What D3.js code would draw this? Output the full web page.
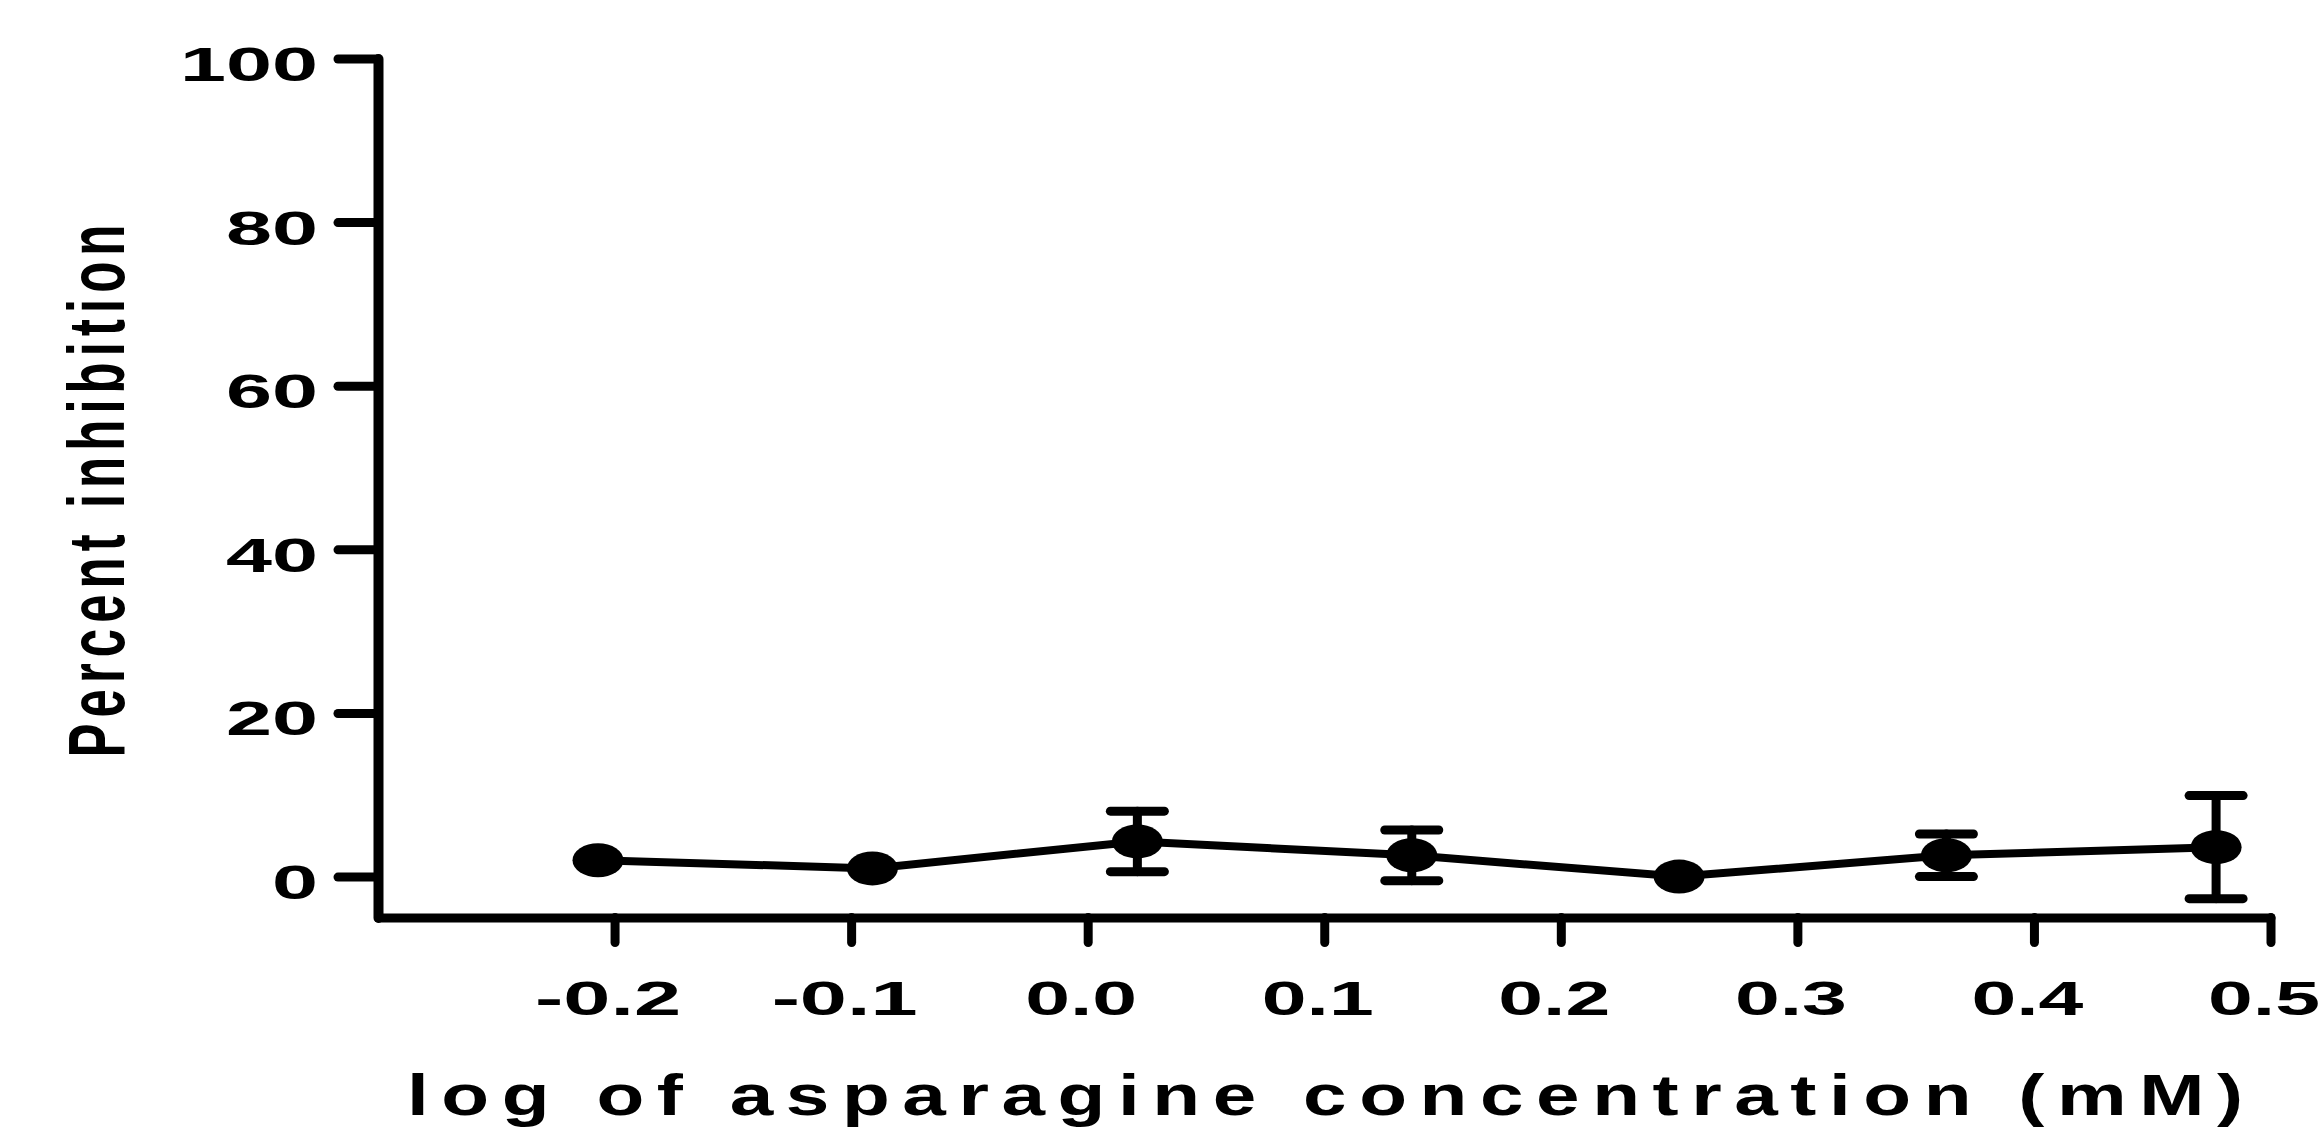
<!DOCTYPE html>
<html>
<head>
  <meta charset="utf-8">
  <title>Percent inhibition</title>
  <style>
    body {
      margin: 0;
      background: #fff;
    }
    .axis path,
    .axis line {
      stroke: #000;
      stroke-linecap: round;
    }
    .axis text {
      font-family: "Liberation Sans", Arial, sans-serif;
      font-weight: bold;
      fill: #000;
    }
    .title {
      font-family: "Liberation Sans", Arial, sans-serif;
      font-weight: bold;
      fill: #000;
    }
  </style>
</head>
<body>
  <div id="chart"></div>

  <script src="https://cdn.jsdelivr.net/npm/d3@7/dist/d3.min.js"></script>
  <script>
    // log10 of asparagine concentration (mM)
    var logConc = [-0.207, -0.091, 0.021, 0.137, 0.250, 0.363, 0.477];
    // mean percent inhibition
    var inhibition = [2.0, 1.0, 4.3, 2.6, 0.0, 2.6, 3.6];
    // error (SEM)
    var sem = [0.5, 0.6, 3.7, 3.1, 0.6, 2.6, 6.3];

    var xTicks = [-0.2, -0.1, 0.0, 0.1, 0.2, 0.3, 0.4, 0.5];
    var yTicks = [0, 20, 40, 60, 80, 100];

    var width = 2322,
      height = 1129;

    var points = logConc.map(function(d, i) {
      return {x: d, y: inhibition[i], e: sem[i]};
    });

    var svg = d3.select("#chart").append("svg")
      .attr("width", width)
      .attr("height", height);

    var x = d3.scaleLinear().domain([-0.3, 0.5]).range([378, 2270.5]);
    var y = d3.scaleLinear().domain([-5, 100]).range([917.5, 58.5]);

    // y axis
    var yAxis = svg.append("g")
      .attr("class", "axis")
      .attr("transform", "translate(" + x(-0.3) + ",0)")
      .call(d3.axisLeft(y).tickValues(yTicks).tickSize(40).tickSizeOuter(0).tickPadding(20)
        .tickFormat(d3.format("d")));

    yAxis.select(".domain").attr("stroke-width", 10);
    yAxis.selectAll(".tick line").attr("stroke-width", 9);
    yAxis.selectAll(".tick text")
      .attr("font-size", 49)
      .attr("dy", 22)
      .attr("x", -60)
      .attr("textLength", function(d) { return String(d).length * 46; })
      .attr("lengthAdjust", "spacingAndGlyphs");

    // x axis
    var xAxis = svg.append("g")
      .attr("class", "axis")
      .attr("transform", "translate(0," + y(-5) + ")")
      .call(d3.axisBottom(x).tickValues(xTicks).tickSize(25).tickSizeOuter(0)
        .tickFormat(d3.format(".1f")));

    xAxis.select(".domain").attr("stroke-width", 9);
    xAxis.selectAll(".tick line").attr("stroke-width", 9);
    xAxis.selectAll(".tick text")
      .attr("font-size", 49)
      .attr("y", 97)
      .attr("dy", 0)
      .attr("x", -7)
      .text(function(d) { return d3.format(".1f")(d).replace("−", "-"); })
      .attr("textLength", function(d) { return d < 0 ? 146 : 112; })
      .attr("lengthAdjust", "spacingAndGlyphs");

    // connecting line
    var line = d3.line()
      .x(function(d) { return x(d.x); })
      .y(function(d) { return y(d.y); });

    svg.append("path")
      .datum(points)
      .attr("fill", "none")
      .attr("stroke", "#000")
      .attr("stroke-width", 8)
      .attr("d", line);

    // error bars, only where they reach past the symbol
    var markerRy = 17;
    var bars = svg.selectAll("g.err")
      .data(points.filter(function(d) { return y(0) - y(d.e) > markerRy; }))
      .enter()
      .append("g")
      .attr("class", "err")
      .attr("stroke", "#000")
      .attr("stroke-linecap", "round");

    bars.append("line")
      .attr("stroke-width", 9)
      .attr("x1", function(d) { return x(d.x); })
      .attr("x2", function(d) { return x(d.x); })
      .attr("y1", function(d) { return y(d.y + d.e); })
      .attr("y2", function(d) { return y(d.y - d.e); });

    [1, -1].forEach(function(s) {
      bars.append("line")
        .attr("stroke-width", 9)
        .attr("x1", function(d) { return x(d.x) - 27; })
        .attr("x2", function(d) { return x(d.x) + 27; })
        .attr("y1", function(d) { return y(d.y + s * d.e); })
        .attr("y2", function(d) { return y(d.y + s * d.e); });
    });

    // symbols
    svg.selectAll("ellipse.dot")
      .data(points)
      .enter()
      .append("ellipse")
      .attr("class", "dot")
      .attr("cx", function(d) { return x(d.x); })
      .attr("cy", function(d) { return y(d.y); })
      .attr("rx", 25.5)
      .attr("ry", markerRy)
      .attr("fill", "#000");

    // axis titles
    svg.append("text")
      .attr("class", "title")
      .attr("transform", "translate(1325,1115) scale(1.35,1)")
      .attr("text-anchor", "middle")
      .attr("font-size", 58)
      .attr("textLength", 1836 / 1.35)
      .attr("lengthAdjust", "spacing")
      .text("log of asparagine concentration (mM)");

    svg.append("text")
      .attr("class", "title")
      .attr("transform", "translate(124,491) scale(1.55,1) rotate(-90)")
      .attr("text-anchor", "middle")
      .attr("font-size", 51)
      .attr("textLength", 533)
      .attr("lengthAdjust", "spacing")
      .text("Percent inhibition");
  </script>
</body>
</html>
